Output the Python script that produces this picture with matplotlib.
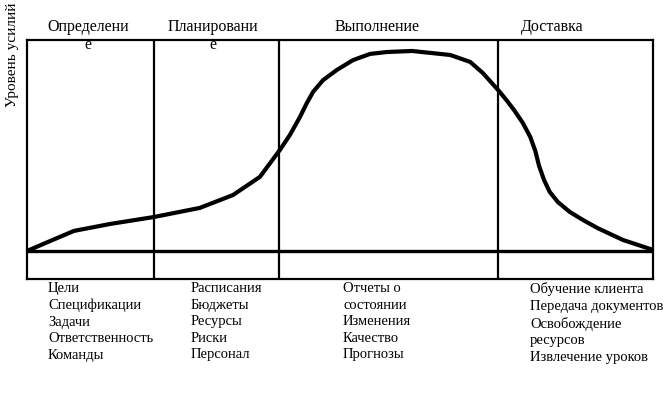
import matplotlib.pyplot as plt

plt.rcParams['font.family'] = ['Liberation Serif', 'DejaVu Serif']

# Кривая усилий по времени проекта (время и усилия в % от шкалы)
time = [0.0, 3.7, 7.5, 13.3, 20.3, 27.6, 32.9, 37.2, 40.4, 42.0, 43.6, 44.7,
        45.7, 47.3, 49.5, 52.1, 54.8, 57.5, 61.5, 67.6, 70.8, 72.8, 75.4,
        76.7, 77.9, 79.2, 80.4, 81.2, 81.8, 82.6, 83.5, 84.8, 86.7, 88.8,
        91.1, 95.2, 100.0]
effort = [0.0, 4.7, 9.5, 12.8, 16.1, 20.4, 26.5, 35.1, 47.9, 55.0, 63.5, 70.1,
          75.4, 81.0, 85.8, 90.5, 93.4, 94.3, 94.8, 92.9, 89.6, 84.4, 75.8,
          71.1, 66.4, 60.7, 54.0, 47.4, 40.3, 33.6, 28.0, 23.2, 18.5, 14.7,
          10.9, 5.2, 0.5]

# Границы фаз
phase_bounds = [20.3, 40.3, 75.2]
phase_names = ["Определени\nе", "Планировани\nе", "Выполнение", "Доставка"]
phase_label_x = [9.7, 29.7, 55.9, 83.9]

phase_items = [
    ["Цели", "Спецификации", "Задачи", "Ответственность", "Команды"],
    ["Расписания", "Бюджеты", "Ресурсы", "Риски", "Персонал"],
    ["Отчеты о", "состоянии", "Изменения", "Качество", "Прогнозы"],
    ["Обучение клиента", "Передача документов", "Освобождение", "ресурсов",
     "Извлечение уроков"],
]
items_x = [48, 191, 343, 530]  # px, левый край колонок

W, H = 669, 395
fig = plt.figure(figsize=(W / 100, H / 100), dpi=100)
ax = fig.add_axes([27 / W, (H - 279) / H, 626 / W, 239 / H])
ax.set_xlim(0, 100)
ax.set_ylim(-13.3, 100)
ax.set_xticks([])
ax.set_yticks([])
for sp in ax.spines.values():
    sp.set_linewidth(1.6)

ax.axhline(0, color='black', lw=2.4)
for b in phase_bounds:
    ax.axvline(b, color='black', lw=1.6)

ax.plot(time, effort, color='black', lw=3.0, solid_joinstyle='round',
        solid_capstyle='round')

for name, x in zip(phase_names, phase_label_x):
    ax.text(x, 1.088, name, transform=ax.get_xaxis_transform(), ha='center',
            va='top', fontsize=11.5, linespacing=1.15, clip_on=False)

for items, x in zip(phase_items, items_x):
    fig.text(x / W, 1 - 282 / H, "\n".join(items), ha='left', va='top',
             fontsize=10.5, linespacing=1.36)

fig.text(13 / W, 1 - 55 / H, "Уровень усилий", rotation=90, ha='center',
         va='center', fontsize=11)

fig.savefig('out.png', dpi=100)
